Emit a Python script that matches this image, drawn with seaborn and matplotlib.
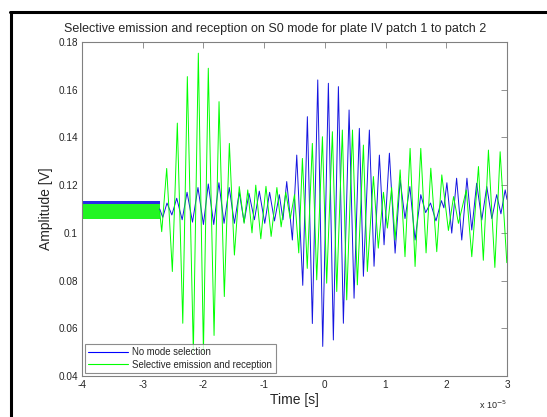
import numpy as np
import pandas as pd
import seaborn as sns
import matplotlib.pyplot as plt
from matplotlib.lines import Line2D

# temps en unites de 1e-5 s, amplitudes en V (extrema)
blue_time = [-2.72, -2.67, -2.60, -2.52, -2.44, -2.35, -2.27, -2.18, -2.09, -2.0,
             -1.92, -1.83, -1.745, -1.66, -1.575, -1.49, -1.41, -1.33, -1.25, -1.16,
             -1.08, -0.99, -0.91, -0.83, -0.75, -0.69, -0.628, -0.535, -0.463, -0.364,
             -0.288, -0.206, -0.117, -0.035, 0.058, 0.14, 0.223, 0.305, 0.399, 0.481,
             0.568, 0.635, 0.733, 0.81, 0.898, 0.975, 1.063, 1.157, 1.24, 1.32,
             1.40, 1.486, 1.58, 1.66, 1.74, 1.83, 1.92, 1.96, 2.01, 2.09,
             2.17, 2.255, 2.34, 2.42, 2.50, 2.585, 2.667, 2.75, 2.83, 2.90,
             2.97, 3.0]
blue_amp = [0.110, 0.1065, 0.1125, 0.1075, 0.1145, 0.1055, 0.117, 0.1045, 0.119, 0.1035,
            0.1205, 0.1035, 0.121, 0.104, 0.119, 0.104, 0.117, 0.1045, 0.1165, 0.1055,
            0.1175, 0.104, 0.117, 0.105, 0.116, 0.1055, 0.1215, 0.097, 0.1326, 0.078,
            0.1487, 0.062, 0.1641, 0.0524, 0.1627, 0.0551, 0.1613, 0.0621, 0.1515, 0.0726,
            0.1438, 0.0818, 0.1431, 0.086, 0.1326, 0.095, 0.1334, 0.0915, 0.1222, 0.106,
            0.1194, 0.097, 0.116, 0.1085, 0.1125, 0.105, 0.1135, 0.1105, 0.121, 0.0999,
            0.1229, 0.097, 0.1229, 0.1012, 0.1208, 0.1054, 0.1194, 0.106, 0.116, 0.108,
            0.118, 0.114]

green_time = [-2.72, -2.687, -2.605, -2.512, -2.43, -2.34, -2.265, -2.166, -2.084, -2.0,
              -1.92, -1.825, -1.743, -1.656, -1.573, -1.49, -1.41, -1.33, -1.27, -1.20,
              -1.138, -1.055, -0.97, -0.885, -0.79, -0.72, -0.644, -0.57, -0.50, -0.43,
              -0.37, -0.29, -0.206, -0.134, -0.04, 0.03, 0.124, 0.196, 0.288, 0.36,
              0.455, 0.535, 0.635, 0.70, 0.80, 0.88, 0.965, 1.03, 1.10, 1.157,
              1.24, 1.32, 1.404, 1.486, 1.58, 1.667, 1.745, 1.843, 1.926, 2.035,
              2.12, 2.20, 2.33, 2.42, 2.53, 2.61, 2.694, 2.80, 2.887, 2.997]
green_amp = [0.109, 0.1005, 0.127, 0.0838, 0.146, 0.0621, 0.1655, 0.050, 0.1753, 0.050,
             0.169, 0.057, 0.155, 0.0733, 0.1375, 0.0907, 0.1194, 0.104, 0.118, 0.100,
             0.120, 0.0975, 0.1195, 0.0985, 0.119, 0.1025, 0.117, 0.106, 0.116, 0.0916,
             0.1312, 0.0851, 0.1375, 0.0803, 0.1403, 0.0789, 0.1424, 0.0754, 0.1431, 0.0719,
             0.1431, 0.0782, 0.1368, 0.0838, 0.1236, 0.0936, 0.117, 0.102, 0.119, 0.097,
             0.1264, 0.090, 0.1354, 0.0859, 0.1354, 0.0916, 0.1271, 0.0921, 0.1243, 0.1010,
             0.1152, 0.104, 0.118, 0.090, 0.1278, 0.0885, 0.1347, 0.0855, 0.134, 0.0875]

# bruit avant l'arrivee de l'onde (bande min / max)
noise_time = [-4.0, -2.72]
blue_noise = (0.1075, 0.1135)
green_noise = (0.1060, 0.1120)

labels = ['No mode selection', 'Selective emission and reception']
colors = ['#0000ff', '#00ff00']

df = pd.concat([
    pd.DataFrame({'time': blue_time, 'amp': blue_amp, 'serie': labels[0]}),
    pd.DataFrame({'time': green_time, 'amp': green_amp, 'serie': labels[1]}),
])

sns.set_style('white')
plt.rcParams['font.family'] = ['Liberation Sans', 'DejaVu Sans']

fig = plt.figure(figsize=(5.47, 4.17), dpi=100)
ax = fig.add_axes([82 / 547, 41 / 417, 425 / 547, 334 / 417])

ax.fill_between(noise_time, blue_noise[0], blue_noise[1], color='#2a2ae8', lw=0)
sns.lineplot(data=df[df.serie == labels[0]], x='time', y='amp', color='#1515e0',
             estimator=None, sort=False, lw=0.7, ax=ax, legend=False)
ax.fill_between(noise_time, green_noise[0], green_noise[1], color='#22f522', lw=0)
sns.lineplot(data=df[df.serie == labels[1]], x='time', y='amp', color=colors[1],
             estimator=None, sort=False, lw=0.7, ax=ax, legend=False)

ax.set_xlim(-4, 3)
ax.set_ylim(0.04, 0.18)
ax.set_xticks(range(-4, 4))
ax.set_xticklabels([str(v) for v in range(-4, 4)])
yt = [0.04, 0.06, 0.08, 0.1, 0.12, 0.14, 0.16, 0.18]
ax.set_yticks(yt)
ax.set_yticklabels(['0.04', '0.06', '0.08', '0.1', '0.12', '0.14', '0.16', '0.18'])
ax.tick_params(direction='in', length=4, width=0.6, color='#808080', labelsize=7.2,
               top=True, right=True, pad=3)
for s in ax.spines.values():
    s.set_color('#808080')
    s.set_linewidth(0.8)

ax.set_xlabel('Time [s]', fontsize=10, labelpad=2)
ax.set_ylabel('Amplitude [V]', fontsize=10, labelpad=4)
fig.text(275 / 547, 1 - 29 / 417,
         'Selective emission and reception on S0 mode for plate IV patch 1 to patch 2',
         ha='center', va='center', fontsize=9)
ax.text(1.0, -0.085, r'x 10$^{-5}$', transform=ax.transAxes, ha='right', va='center', fontsize=6.5)

handles = [Line2D([], [], color=c, lw=0.8) for c in colors]
leg = ax.legend(handles, labels, loc='lower left', fontsize=6.9, frameon=True, fancybox=False,
                borderaxespad=0.3, handlelength=4.2, handletextpad=0.4, labelspacing=0.3,
                borderpad=0.35)
leg.get_frame().set_edgecolor('#707070')
leg.get_frame().set_linewidth(0.8)

# cadre noir de la capture
fig.add_artist(Line2D([11 / 547, 11 / 547], [0, 405 / 417], color='black', lw=2.2,
                      transform=fig.transFigure))
fig.add_artist(Line2D([10 / 547, 1], [405 / 417, 405 / 417], color='black', lw=2.2,
                      transform=fig.transFigure))

fig.savefig('out.png', dpi=100)
